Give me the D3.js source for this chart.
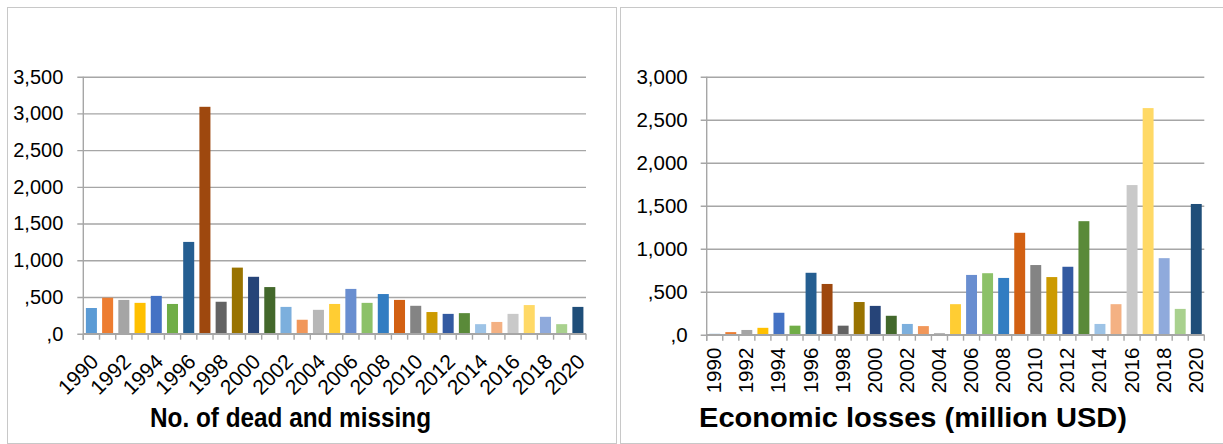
<!DOCTYPE html>
<html>
<head>
<meta charset="utf-8">
<script src="https://cdn.jsdelivr.net/npm/d3@7"></script>
<style>
  html, body { margin: 0; padding: 0; background: #fff; }
  svg { display: block; }
  text { font-family: "Liberation Sans", Arial, sans-serif; fill: #000; }
</style>
</head>
<body>
<svg id="chart" width="1223" height="444"></svg>
<script>
// Years shown on both charts
const years = d3.range(1990, 2021).map(String);

// No. of dead and missing, per year
const deadMissing = [350, 490, 460, 420, 515, 405, 1250, 3090, 435, 900, 775, 635,
  365, 190, 325, 405, 610, 420, 540, 460, 380, 295, 270, 280, 130, 160, 270, 390, 230, 130, 365];

// Economic losses (million USD), per year
const econLosses = [10, 30, 55, 80, 255, 105, 720, 590, 105, 380, 335, 220,
  125, 100, 20, 355, 695, 715, 660, 1185, 810, 670, 790, 1320, 125, 355, 1740, 2635, 890, 300, 1520];

// Axis tick values and their printed labels
const deadTicks = [0, 500, 1000, 1500, 2000, 2500, 3000, 3500];
const deadTickLabels = [",0", ",500", "1,000", "1,500", "2,000", "2,500", "3,000", "3,500"];
const lossTicks = [0, 500, 1000, 1500, 2000, 2500, 3000];
const lossTickLabels = [",0", ",500", "1,000", "1,500", "2,000", "2,500", "3,000"];
const yearTickLabels = years.filter((y, i) => i % 2 === 0);

// One colour per bar (Office "vary colours by point" palette)
const barColors = ["#5B9BD5", "#ED7D31", "#A5A5A5", "#FFC000", "#4472C4", "#70AD47",
  "#255E91", "#9E480E", "#636363", "#997300", "#264478", "#43682B",
  "#7CAFDD", "#F1975A", "#B7B7B7", "#FFCD33", "#698ED0", "#8CC168",
  "#327DC2", "#D26012", "#848484", "#CC9A00", "#335AA1", "#5A8A39",
  "#9DC3E6", "#F4B183", "#C9C9C9", "#FFD966", "#8FAADC", "#A9D18E", "#1F4E79"];

const svg = d3.select("#chart");
const gridColor = "#a6a6a6";

// Panel frames
svg.append("rect").attr("x", 7.5).attr("y", 7.5).attr("width", 609).attr("height", 436)
  .attr("fill", "none").attr("stroke", "#c8c8c8").attr("stroke-width", 1);
svg.append("rect").attr("x", 620.5).attr("y", 7.5).attr("width", 620).attr("height", 436)
  .attr("fill", "none").attr("stroke", "#c8c8c8").attr("stroke-width", 1);

function drawPanel(opt) {
  const g = svg.append("g");
  const x = d3.scaleBand().domain(years).range([opt.x0, opt.x1])
    .paddingInner(0.32).paddingOuter(0.16);
  const y = d3.scaleLinear().domain([0, opt.max]).range([opt.y0, opt.yTop]);
  const plotW = opt.x1 - opt.x0;

  // Value axis with gridlines
  const yAxis = d3.axisLeft(y).tickValues(opt.ticks)
    .tickFormat((d, i) => opt.tickLabels[i])
    .tickSizeInner(-plotW).tickSizeOuter(0).tickPadding(opt.labelGap);
  const ya = g.append("g").attr("transform", `translate(${opt.x0},0)`).call(yAxis);
  ya.select(".domain").remove();
  ya.selectAll(".tick line").attr("stroke", gridColor).attr("stroke-width", 1.4)
    .attr("x1", -6);
  ya.selectAll(".tick text").attr("font-size", opt.yFont)
    .attr("font-family", "Liberation Sans, Arial, sans-serif").attr("fill", "#000");

  // Vertical axis line
  g.append("line").attr("x1", opt.x0).attr("x2", opt.x0)
    .attr("y1", opt.yTop).attr("y2", opt.y0 + 6)
    .attr("stroke", gridColor).attr("stroke-width", 1.4);

  // Bars
  g.selectAll("rect.bar").data(opt.values).join("rect")
    .attr("class", "bar")
    .attr("x", (d, i) => x(years[i]))
    .attr("width", x.bandwidth())
    .attr("y", d => y(d))
    .attr("height", d => y(0) - y(d))
    .attr("fill", (d, i) => barColors[i]);

  // Category axis: baseline and tick marks at slot boundaries
  g.append("line").attr("x1", opt.x0).attr("x2", opt.x1)
    .attr("y1", y(0)).attr("y2", y(0))
    .attr("stroke", gridColor).attr("stroke-width", 1.6);
  const step = x.step();
  const firstEdge = x(years[0]) - step * x.paddingOuter();
  g.selectAll("line.xtick").data(d3.range(years.length + 1)).join("line")
    .attr("class", "xtick")
    .attr("x1", i => firstEdge + i * step)
    .attr("x2", i => firstEdge + i * step)
    .attr("y1", y(0)).attr("y2", y(0) + 6)
    .attr("stroke", gridColor).attr("stroke-width", 1.4);

  // Year labels
  const xAxis = d3.axisBottom(x).tickValues(yearTickLabels).tickSize(0).tickPadding(0);
  const xa = g.append("g").attr("transform", `translate(0,${opt.y0})`).call(xAxis);
  xa.select(".domain").remove();
  xa.selectAll(".tick line").remove();
  xa.selectAll(".tick text")
    .attr("font-size", opt.xFont)
    .attr("font-family", "Liberation Sans, Arial, sans-serif")
    .attr("fill", "#000")
    .attr("text-anchor", "end")
    .attr("dy", null)
    .attr("y", 0).attr("x", 0)
    .attr("transform", opt.xLabelTransform)
    .attr("dominant-baseline", "central");

  // Chart title
  g.append("text").attr("x", opt.titleX).attr("y", opt.titleY)
    .attr("font-size", 27).attr("font-weight", "bold")
    .attr("textLength", opt.titleW).attr("lengthAdjust", "spacingAndGlyphs")
    .text(opt.title);
}

drawPanel({
  values: deadMissing, max: 3500, ticks: deadTicks, tickLabels: deadTickLabels,
  x0: 83.3, x1: 586, yTop: 76.7, y0: 333.7,
  labelGap: 20, yFont: 20, xFont: 21,
  xLabelTransform: "translate(3,24) rotate(-45)",
  title: "No. of dead and missing", titleX: 150, titleY: 427, titleW: 281
});

drawPanel({
  values: econLosses, max: 3000, ticks: lossTicks, tickLabels: lossTickLabels,
  x0: 706.7, x1: 1204.3, yTop: 76.7, y0: 334.7,
  labelGap: 19, yFont: 20.5, xFont: 20.5,
  xLabelTransform: "translate(-1,13) rotate(-90)",
  title: "Economic losses (million USD)", titleX: 699, titleY: 427, titleW: 428
});
</script>
</body>
</html>
